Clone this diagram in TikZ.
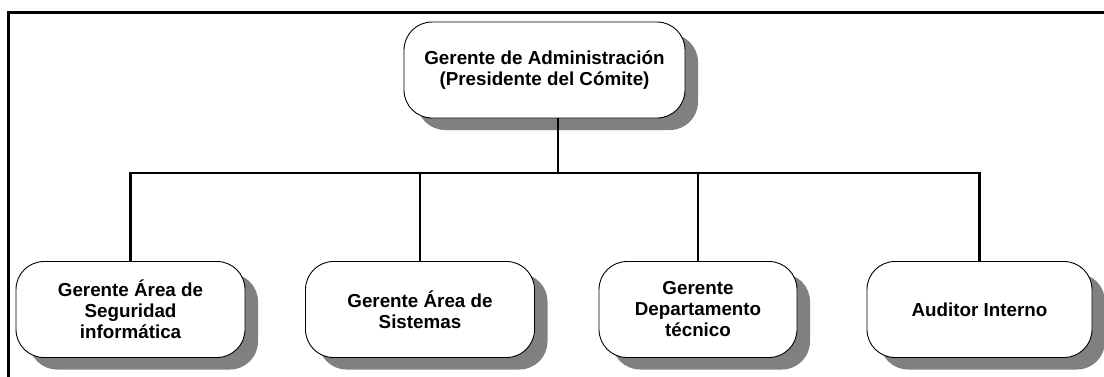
\documentclass[tikz,border=0pt]{standalone}
\usepackage{fontspec}
\setmainfont{Liberation Sans}
\usetikzlibrary{shadows}
\definecolor{shadowgray}{HTML}{808080}
\begin{document}
\begin{tikzpicture}[x=1pt,y=-1pt,
  orgbox/.style={draw=black, line width=0.9pt, fill=white, rounded corners=28pt,
    align=center, font=\bfseries\fontsize{18.8}{21}\selectfont, inner sep=0pt,
    minimum height=96pt,
    drop shadow={shadow xshift=13pt, shadow yshift=-12pt, fill=shadowgray, opacity=1}},
  link/.style={line width=2.5pt, line cap=butt},
  frame/.style={line width=3.5pt}]
\useasboundingbox (0,0) rectangle (1104,376);
\draw[frame] (8.5,390) -- (8.5,12.5) -- (1120,12.5);
\node[orgbox, minimum width=281pt] (top) at (544.5,70) {Gerente de Administración\\(Presidente del Cómite)};
\node[orgbox, minimum width=229pt] (b1) at (130.5,309.5) {Gerente Área de\\Seguridad\\informática};
\node[orgbox, minimum width=229pt] (b2) at (420,309.5) {Gerente Área de\\Sistemas};
\node[orgbox, minimum width=198pt] (b3) at (698,309.5) {Gerente\\Departamento\\técnico};
\node[orgbox, minimum width=225pt] (b4) at (979.5,309.5) {Auditor Interno};
\coordinate (hub) at (558,173);
\draw[link] (top.south -| hub) -- (hub);
\draw[link] (b1.north) -- (b1.north |- hub) -- (b4.north |- hub) -- (b4.north);
\draw[link] (b2.north) -- (b2.north |- hub);
\draw[link] (b3.north) -- (b3.north |- hub);
\end{tikzpicture}
\end{document}
